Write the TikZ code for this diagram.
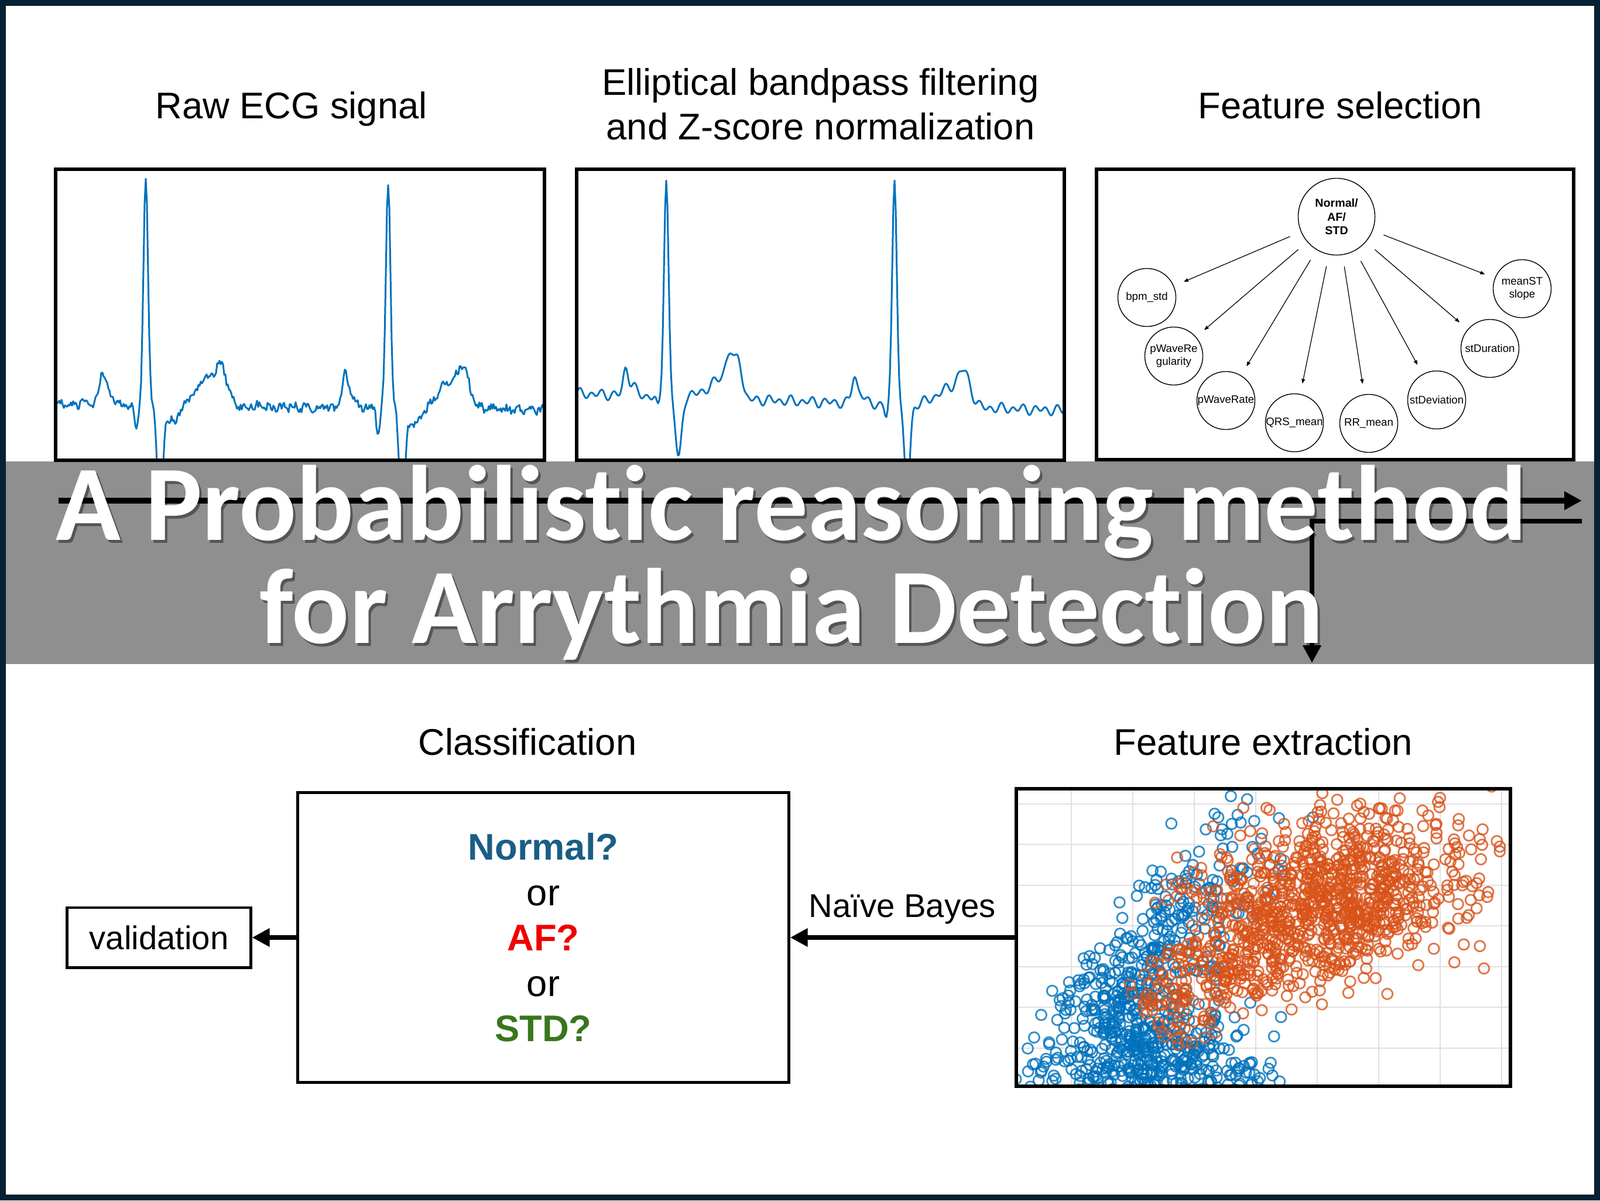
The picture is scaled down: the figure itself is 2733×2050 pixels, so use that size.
\documentclass[tikz,border=0pt]{standalone}
\usepackage{fontspec}
\setmainfont{Liberation Sans}
\newfontfamily\ttlfont{Carlito}[Ligatures=NoCommon]
\usetikzlibrary{arrows.meta,positioning}

\definecolor{framenavy}{RGB}{6,33,50}
\definecolor{bannergray}{RGB}{143,143,143}
\definecolor{ecgblue}{RGB}{0,114,189}
\definecolor{afcol}{RGB}{217,83,25}
\definecolor{normalcol}{RGB}{26,94,132}
\definecolor{afred}{RGB}{240,0,0}
\definecolor{stdgreen}{RGB}{56,118,29}

\begin{document}
\begin{tikzpicture}[
  x=0.01cm, y=-0.01cm,
  font=\fontsize{18}{21.5}\selectfont,
  declare function={
    ecgcl(\x)=max(-4,min(4,\x));
    ecggs(\x)=exp(-ecgcl(\x)*ecgcl(\x));
    rawbeat(\x)=52*ecggs((\x+74)/7)+20*ecggs((\x+63)/10)-45*ecggs((\x+17)/4)
      +390*ecggs(\x/5.5)-200*ecggs((\x-24)/6)-28*ecggs((\x-42)/18)
      +50*ecggs((\x-108)/28)+45*ecggs((\x-130)/12);
    fltqrs(\x)=44*ecggs((\x+69)/6)+18*ecggs((\x+58)/8)-22*ecggs((\x+14)/4)
      +372*ecggs(\x/5.5)-108*ecggs((\x-21)/7)+12*ecggs((\x-70)/25);
    fltta(\x)=62*ecggs((\x-109)/9)+66*ecggs((\x-124)/8)+30*ecggs((\x-95)/18);
    flttb(\x)=18*ecggs(\x/5.5)+60*ecggs((\x-118)/16)+22*ecggs((\x-92)/18)-40*ecggs((\x-23)/6);
  },
  panel/.style={draw, line width=1.7pt, inner sep=0pt},
  box/.style={draw, line width=1.4pt, inner sep=0pt, align=center},
  ptitle/.style={inner sep=0pt, text depth=0pt, align=center},
  ecgline/.style={ecgblue, line width=0.85pt, line join=round},
  fsel/.style={draw, circle, minimum size=9.9mm, inner sep=0pt, line width=0.4pt,
    align=center, font=\fontsize{5.3}{6.4}\selectfont},
  froot/.style={fsel, minimum size=13.1mm, font=\fontsize{5.6}{6.7}\selectfont\bfseries},
  farr/.style={line width=0.35pt, -{Triangle[length=0.8mm,width=0.6mm]},
    shorten <=2mm, shorten >=1.8mm},
  flow/.style={line width=2.3pt, -{Triangle[length=3mm,width=3mm]}},
  gridln/.style={black!12, line width=0.8pt},
  bdot/.style={ecgblue, draw opacity=0.8, line width=0.8pt},
  odot/.style={afcol, draw opacity=0.8, line width=0.8pt},
  ttl/.style={anchor=base, inner sep=0pt, text=white,
    font=\ttlfont\fontsize{52}{52}\selectfont\bfseries},
  ttlshadow/.style={ttl, text=black, opacity=0.4}
]
\useasboundingbox (0,0) rectangle (2733,2050);
\fill[framenavy] (0,0) rectangle (2733,2050);
\fill[white] (10,10) rectangle (2723,2040);
\fill[bannergray] (10,788) rectangle (2723,1134);

% signal panels
\begin{scope}
  \clip (95,289) rectangle (930,786);
  \draw[ecgline] plot[domain=95:931, samples=419]
    (\x, {690+0.012*(\x-95)-rawbeat(\x-249)-rawbeat(\x-663)-7*rand-3*sin(17*(\x-95))});
\end{scope}
\node[panel, minimum width=8.35cm, minimum height=4.97cm] (raw) at (512.5,537.5) {};
\node[ptitle, above=8.3mm of raw, xshift=-1.5mm] (rawttl) {Raw ECG signal};

\begin{scope}
  \clip (985,289) rectangle (1818,786);
  \draw[ecgline] plot[domain=986:1816, samples=416]
    (\x, {672+0.035*(\x-986)-fltqrs(\x-1138)-fltta(\x-1138)-fltqrs(\x-1528)-flttb(\x-1528)
      -6*sin(19*(\x-986))-4*sin(11*(\x-986)+40)});
\end{scope}
\node[panel, minimum width=8.33cm, minimum height=4.97cm] (flt) at (1401.5,537.5) {};
\node[ptitle, above=4.7mm of flt] (fltttl) {Elliptical bandpass filtering\\and Z-score normalization};

\node[panel, minimum width=8.15cm, minimum height=4.95cm] (fsel) at (2280.5,537) {};
\node[ptitle, above=8.3mm of fsel, xshift=0.9mm] (selttl) {Feature selection};

% feature graph
\node[froot] (root) at (2283,370) {Normal/\\AF/\\STD};
\node[fsel] (bpm) at (1959,508) {bpm\_std};
\node[fsel] (pwreg) at (2005,608) {pWaveRe\\gularity};
\node[fsel] (pwrate) at (2094,684) {pWaveRate};
\node[fsel] (qrs) at (2211,722) {QRS\_mean};
\node[fsel] (rr) at (2338,723) {RR\_mean};
\node[fsel] (stdev) at (2454,683) {stDeviation};
\node[fsel] (stdur) at (2545,595) {stDuration};
\node[fsel] (meanst) at (2600,493) {meanST\\slope};

\draw[farr] (root) -- (bpm);
\draw[farr] (root) -- (pwreg);
\draw[farr] (root) -- (pwrate);
\draw[farr] (root) -- (qrs);
\draw[farr] (root) -- (rr);
\draw[farr] (root) -- (stdev);
\draw[farr] (root) -- (stdur);
\draw[farr] (root) -- (meanst);

% flow behind the title
\coordinate (flowstart) at (100,855);
\coordinate (flowend) at (2702,855);
\coordinate (retstart) at (2702,890);
\coordinate (extin) at (2241,1132);
\draw[flow, line width=2.6pt] (flowstart) -- (flowend);
\draw[flow] (retstart) -| (extin);

\node[ttlshadow] (ttlAs) at (1356,927) {A Probabilistic reasoning method};
\node[ttlshadow] (ttlBs) at (1356,1103) {for Arrythmia Detection};
\node[ttl] (ttlA) at (1352,922) {A Probabilistic reasoning method};
\node[ttl] (ttlB) at (1352,1098) {for Arrythmia Detection};

% scatter of extracted features
\begin{scope}
  \clip (1736,1347) rectangle (2580,1855);
  \foreach \gx in {1830,1935,...,2565} \draw[gridln] (\gx,1347) -- (\gx,1855);
  \foreach \gy in {1373,1442,1512,1581,1651,1720,1790} \draw[gridln] (1736,\gy) -- (2580,\gy);
  \pgfmathsetseed{11}
  \foreach \i in {1,...,420}{
    \pgfmathsetmacro\sx{1955+100*(rand+rand+rand)}
    \pgfmathsetmacro\sy{1818+45*(rand+rand+rand)}
    \draw[bdot] (\sx,\sy) circle[radius=0.9mm];
  }
  \foreach \i in {1,...,360}{
    \pgfmathsetmacro\ss{1.1-1.1*sqrt(0.5+0.5*rand)}
    \pgfmathsetmacro\sn{48*(rand+rand+rand)}
    \pgfmathsetmacro\sx{1880+280*\ss+0.82*\sn}
    \pgfmathsetmacro\sy{1770-400*\ss+0.574*\sn}
    \draw[bdot] (\sx,\sy) circle[radius=0.9mm];
  }
  \foreach \i in {1,...,880}{
    \pgfmathsetmacro\na{rand+rand+rand}
    \pgfmathsetmacro\nb{rand+rand+rand}
    \pgfmathsetmacro\sx{2268+115*\na}
    \pgfmathsetmacro\sy{1530-20*\na+72*\nb}
    \draw[odot] (\sx,\sy) circle[radius=0.9mm];
  }
  \foreach \i in {1,...,220}{
    \pgfmathsetmacro\ss{0.5+0.5*rand}
    \pgfmathsetmacro\sn{42*(rand+rand+rand)}
    \pgfmathsetmacro\sx{2200-240*\ss+0.6*\sn}
    \pgfmathsetmacro\sy{1560+175*\ss+0.8*\sn}
    \draw[odot] (\sx,\sy) circle[radius=0.9mm];
  }
\end{scope}
\node[panel, minimum width=8.44cm, minimum height=5.08cm] (fext) at (2158,1601) {};
\node[ptitle, above=5.4mm of fext] (extttl) {Feature extraction};

% classification
\node[box, minimum width=8.38cm, minimum height=4.95cm, font=\fontsize{18}{22}\selectfont]
  (cls) at (928,1601) {{\bfseries\color{normalcol}Normal?}\\or\\{\bfseries\color{afred}AF?}\\or\\{\bfseries\color{stdgreen}STD?}};
\node[ptitle, above=6.1mm of cls, xshift=-2.7mm] (clsttl) {Classification};
\node[box, minimum width=3.13cm, minimum height=1.02cm, font=\fontsize{16}{19}\selectfont]
  (valid) at (271.5,1601) {validation};

\draw[flow] (fext) -- node[ptitle, above=3mm, font=\fontsize{16}{19}\selectfont] (nb) {Naïve Bayes} (cls);
\draw[flow] (cls) -- (valid);
\end{tikzpicture}
\end{document}
